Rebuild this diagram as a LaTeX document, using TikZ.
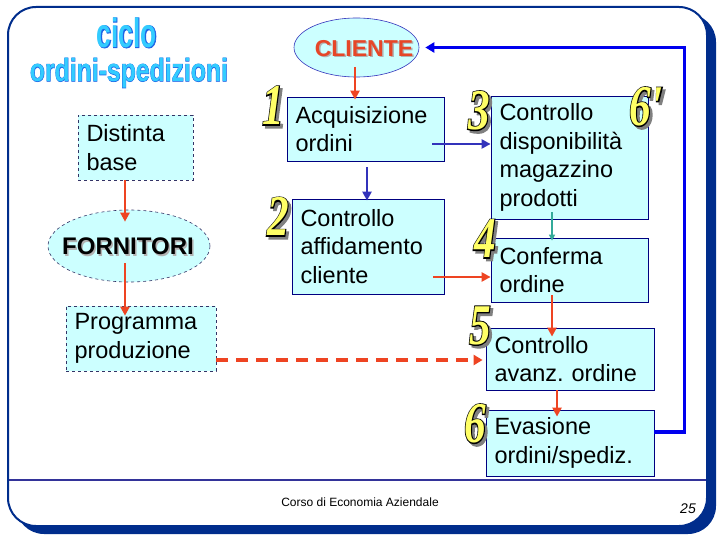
\documentclass[tikz,border=0pt]{standalone}
\usepackage{fontspec}
\setmainfont{Liberation Sans}
\newfontfamily\digitfont{Liberation Serif}
\newfontfamily\digO{Liberation Serif}[FakeBold=4]
\newfontfamily\titleO{Liberation Sans}[FakeBold=2.5]
\usetikzlibrary{arrows.meta,shapes.geometric}
\definecolor{redar}{RGB}{238,68,34}
\definecolor{bluear}{RGB}{51,51,187}
\definecolor{brightblue}{RGB}{0,0,238}
\definecolor{tealar}{RGB}{51,170,153}
\definecolor{boxfill}{RGB}{204,255,255}
\definecolor{boxline}{RGB}{0,0,128}
\definecolor{dashline}{RGB}{51,51,102}
\definecolor{framec}{RGB}{0,45,140}
\definecolor{footc}{RGB}{51,51,153}
\definecolor{titlecyan}{RGB}{51,204,255}
\definecolor{titleline}{RGB}{30,100,230}
\definecolor{numyellow}{RGB}{255,255,102}
\definecolor{cliered}{RGB}{230,70,40}
\frenchspacing
\newcommand\numg[1]{\scalebox{1.35}[1.8]{\fontsize{32}{32}\selectfont\bfseries\itshape
  \makebox[0pt][l]{\kern2pt\raisebox{-1.5pt}{\digO\textcolor{gray}{#1}}}%
  \makebox[0pt][l]{\digO\textcolor{black}{#1}}%
  {\digitfont\textcolor{numyellow}{#1}}}}
\newcommand\titletext[1]{\bfseries\makebox[0pt][l]{\titleO\textcolor{titleline}{#1}}\textcolor{titlecyan}{#1}}
\newcommand\shadowtext[2]{\makebox[0pt][l]{\kern1.5pt\raisebox{-1.5pt}{\textcolor{gray!60}{#2}}}\textcolor{#1}{#2}}
\tikzset{
  boxtxt/.style={align=left, inner xsep=8.5pt, inner ysep=0pt, font=\fontsize{23.5}{28.5}\selectfont},
  solidbox/.style={boxtxt, draw=boxline, fill=boxfill, line width=0.8pt},
  dashbox/.style={boxtxt, draw=dashline, fill=boxfill, line width=0.6pt, dashed},
  bw/.style 2 args={minimum width=#1pt, text width=#1pt-17pt, minimum height=#2pt},
  rarrow/.style={draw=redar, line width=2.5pt, -{Triangle[length=9pt,width=9pt]}},
  barrow/.style={draw=bluear, line width=2.5pt, -{Triangle[length=9pt,width=9pt]}},
  numnode/.style={inner sep=0pt}
}
\begin{document}
\begin{tikzpicture}[x=1pt,y=-1pt]
\useasboundingbox (0,0) rectangle (720,540);
% frame
\fill[framec, rounded corners=28pt] (16,14) rectangle (716,534);
\filldraw[fill=white, draw=framec, line width=2pt, rounded corners=28pt] (8,7) rectangle (707,526);
\draw[footc, line width=2pt] (9,480) -- (706,480);
% title
\node[inner sep=0pt] (t1) at (127,33) {\resizebox*{60pt}{30pt}{\titletext{ciclo}}};
\node[inner sep=0pt] (t2) at (129,73) {\resizebox*{198pt}{30pt}{\titletext{ordini-spedizioni}}};
% left column
\node[dashbox, bw={115}{65}] (dist) at (135.5,147.5) {Distinta\\base};
\node[ellipse, draw=dashline, dashed, line width=0.6pt, fill=boxfill, minimum width=162pt, minimum height=72pt, inner sep=0pt] (forn) at (129,246) {};
\node[inner sep=0pt, font=\fontsize{24}{28}\selectfont\bfseries] (forntext) at (128,247) {\shadowtext{black}{FORNITORI}};
\node[dashbox, bw={150}{65}] (prog) at (141,338.5) {Programma\\produzione};
% middle column
\node[ellipse, draw=bluear, line width=0.6pt, fill=boxfill, minimum width=125pt, minimum height=59pt, inner sep=0pt] (cli) at (356.5,47.5) {};
\node[inner sep=0pt, font=\fontsize{23}{28}\selectfont\bfseries] (clitext) at (364,49) {\shadowtext{cliered}{CLIENTE}};
\node[solidbox, bw={157}{64}] (acq) at (365.5,129) {Acquisizione\\ordini};
\node[solidbox, bw={152}{95}] (aff) at (368,246.5) {Controllo\\affidamento\\cliente};
% right column
\node[solidbox, bw={157}{123}] (disp) at (569.5,157.5) {Controllo\\disponibilità\\magazzino\\prodotti};
\node[solidbox, bw={157}{64}] (conf) at (569.5,270) {Conferma\\ordine};
\node[solidbox, bw={168}{62}] (avz) at (570,359) {Controllo\\avanz. ordine};
\node[solidbox, bw={168}{66}] (eva) at (570,443) {Evasione\\ordini/spediz.};
% numbers
\node[numnode] (n1) at (273,107) {\numg{1}};
\node[numnode] (n2) at (278,218) {\numg{2}};
\node[numnode] (n3) at (479,112) {\numg{3}};
\node[numnode] (n6a) at (646,108) {\numg{6'}};
\node[numnode] (n4) at (485,240) {\numg{4}};
\node[numnode] (n5) at (480,327) {\numg{5}};
\node[numnode] (n6) at (475,425) {\numg{6}};
% footer
\node[inner sep=0pt, font=\fontsize{12}{14}\selectfont] (foot) at (360,502) {Corso di Economia Aziendale};
\node[inner sep=0pt, font=\fontsize{14}{16}\selectfont\itshape] (page) at (688,509) {25};
% connectors
\draw[rarrow] ([xshift=-10.5pt]dist.south) -- ([xshift=-4pt,yshift=-12pt]forn.north);
\draw[rarrow] ([xshift=-4pt,yshift=-17pt]forn.center) -- ([xshift=-16pt,yshift=-10pt]prog.north);
\draw[rarrow] ([xshift=-1.5pt,yshift=-19.5pt]cli.center) -- ([xshift=-10.5pt,yshift=-3pt]acq.north);
\draw[barrow] ([xshift=66.5pt,yshift=-15pt]acq.center) -- ([yshift=13.5pt]disp.west);
\draw[barrow] ([xshift=1.5pt,yshift=-6pt]acq.south) -- ([xshift=-1pt,yshift=-2pt]aff.north);
\draw[rarrow] ([xshift=65pt,yshift=-30.5pt]aff.center) -- ([yshift=-7pt]conf.west);
\draw[draw=tealar, line width=1.8pt, -{Triangle[length=6pt,width=6pt]}] ([xshift=-17.5pt,yshift=7pt]disp.south) -- ([xshift=-17.5pt,yshift=-3pt]conf.north);
\draw[rarrow] ([xshift=-17.5pt,yshift=-25pt]conf.center) -- ([xshift=-18pt,yshift=-9pt]avz.north);
\draw[rarrow] ([xshift=-13pt]avz.south) -- ([xshift=-13pt,yshift=-7pt]eva.north);
\draw[draw=redar, line width=3.5pt, dash pattern=on 12pt off 8pt, -{Triangle[length=9pt,width=10pt]}] ([yshift=-21.5pt]prog.east) -- ([xshift=-3pt,yshift=-1pt]avz.west);
\draw[draw=brightblue, line width=3.5pt, -{Triangle[length=9pt,width=10pt]}] ([yshift=11pt]eva.east) -- ++(30,0) |- ([xshift=6pt]cli.east);
\end{tikzpicture}
\end{document}
